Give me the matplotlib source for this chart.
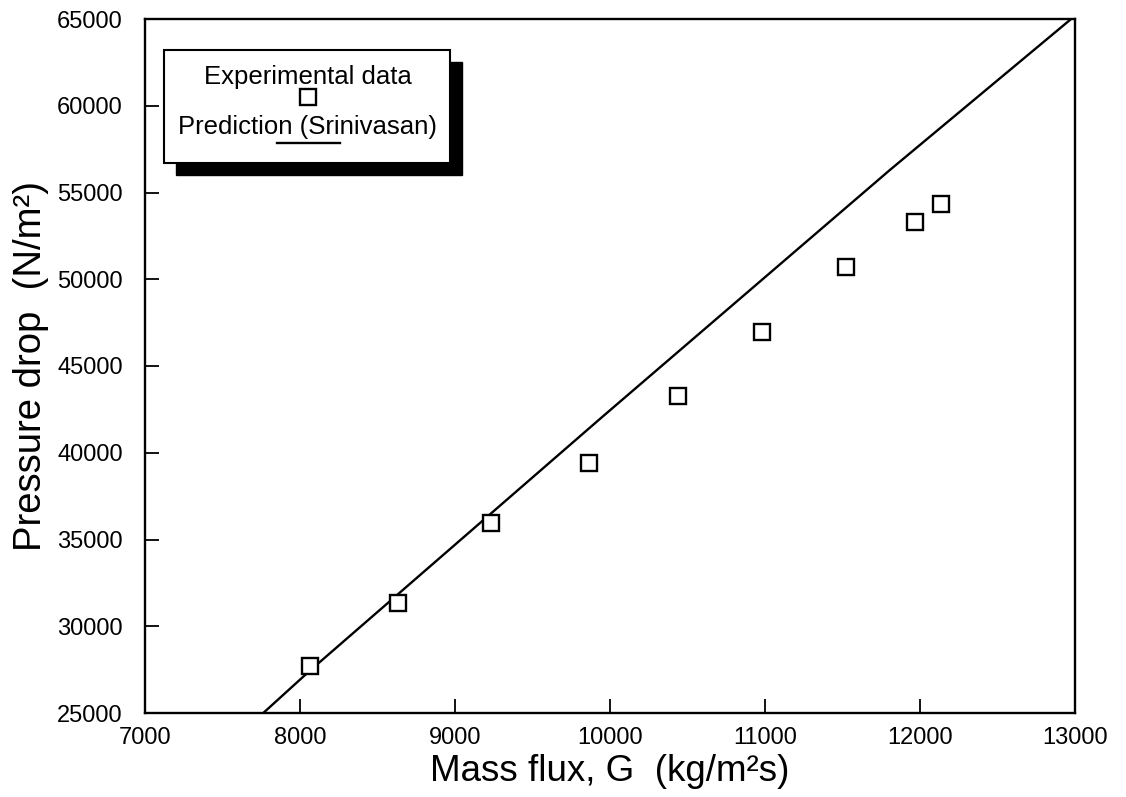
import matplotlib
matplotlib.use("Agg")
import matplotlib.pyplot as plt
from matplotlib.patches import Rectangle
from matplotlib.lines import Line2D

plt.rcParams['font.family'] = ['Liberation Sans', 'DejaVu Sans']

# Experimental data
mass_flux = [8065, 8630, 9232, 9865, 10441, 10983, 11521, 11966, 12137]
pressure_drop = [27730, 31320, 35970, 39390, 43270, 46980, 50720, 53280, 54320]

# Prediction (Srinivasan)
pred_flux = [7763, 8065, 9935, 11806, 12975]
pred_dp = [25000, 27450, 41950, 56300, 65000]

xticks = [7000, 8000, 9000, 10000, 11000, 12000, 13000]
yticks = [25000, 30000, 35000, 40000, 45000, 50000, 55000, 60000, 65000]

fig = plt.figure(figsize=(11.26, 7.97), dpi=100)
ax = fig.add_axes([145/1126, 1-713/797, 930/1126, 694/797])

ax.plot(pred_flux, pred_dp, color='black', lw=1.7, solid_capstyle='butt', clip_on=True)
ax.plot(mass_flux, pressure_drop, linestyle='none', marker='s', ms=11,
        mfc='white', mec='black', mew=1.7, zorder=3)

ax.set_xlim(7000, 13000)
ax.set_ylim(25000, 65000)
ax.set_xticks(xticks)
ax.set_yticks(yticks)
ax.set_xticklabels([str(v) for v in xticks])
ax.set_yticklabels([str(v) for v in yticks])
ax.tick_params(direction='in', length=10, width=1.3, labelsize=17, colors='black')
ax.tick_params(axis='x', pad=10)
ax.tick_params(axis='y', pad=16)
for s in ax.spines.values():
    s.set_linewidth(1.7)

ax.set_xlabel('Mass flux, G  (kg/m²s)', fontsize=26.5, labelpad=4)
ax.set_ylabel('Pressure drop  (N/m²)', fontsize=27.5, labelpad=6)

# Custom legend box with shadow
x0, x1 = 0.0204, 0.328
yb, yt = 0.7925, 0.9553
dx, dy = 12/930, 12/694
ax.add_patch(Rectangle((x0 + dx, yb - dy), x1 - x0, yt - yb, transform=ax.transAxes,
                       facecolor='black', edgecolor='black', zorder=5))
ax.add_patch(Rectangle((x0, yb), x1 - x0, yt - yb, transform=ax.transAxes,
                       facecolor='white', edgecolor='black', lw=1.5, zorder=6))
ax.text(0.1753, 0.9164, 'Experimental data', transform=ax.transAxes, ha='center',
        va='center', fontsize=18.5, zorder=7)
ax.add_line(Line2D([0.1753], [0.8876], transform=ax.transAxes, marker='s', ms=11,
                   mfc='white', mec='black', mew=1.7, linestyle='none', zorder=7))
ax.text(0.1742, 0.8444, 'Prediction (Srinivasan)', transform=ax.transAxes, ha='center',
        va='center', fontsize=18.5, zorder=7)
ax.add_line(Line2D([0.142, 0.2097], [0.8213, 0.8213], transform=ax.transAxes,
                   color='black', lw=1.7, zorder=7))

fig.savefig('out.png', dpi=100)
